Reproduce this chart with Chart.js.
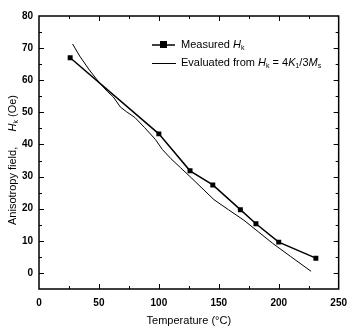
<!DOCTYPE html>
<html>
<head>
<meta charset="utf-8">
<script src="https://cdn.jsdelivr.net/npm/chart.js@4"></script>
<style>
  html, body { margin: 0; padding: 0; background: #fff; }
  #wrap { width: 355px; height: 334px; }
</style>
</head>
<body>
<div id="wrap"><canvas id="chart" width="355" height="334"></canvas></div>
<script>
// measured anisotropy field (Oe) vs temperature (C)
const measuredT = [26, 100, 126, 145, 168, 181, 200, 231];
const measuredH = [67, 43.3, 31.8, 27.4, 19.7, 15.3, 9.6, 4.6];

// evaluated from Hk = 4K1/3Ms
const evalT = [28, 34, 42, 50, 57, 62, 68, 73, 80, 88, 97, 103, 110, 118, 126, 136, 146, 158, 171, 183, 195, 210, 227];
const evalH = [71.3, 67.5, 63.2, 59.4, 56.5, 54.8, 51.6, 50.2, 48.4, 45.3, 41.6, 38.4, 35.6, 32.8, 30, 26.4, 22.8, 19.7, 16.4, 12.8, 9.2, 5.1, 0.5];

const xTicks = [0, 50, 100, 150, 200, 250];
const yTicks = [0, 10, 20, 30, 40, 50, 60, 70, 80];

const FONT = "'Liberation Sans', Arial, sans-serif";

function pts(xs, ys) {
    return xs.map((x, i) => ({ x: x, y: ys[i] }));
}

// draw a run of [text, style] pieces; style: "" normal, "i" italic, "s" subscript
function drawRich(ctx, parts, x, y, size) {
    for (const [txt, st] of parts) {
        if (st === "s") {
            ctx.font = (size - 4) + "px " + FONT;
            ctx.fillText(txt, x, y + 3);
        } else {
            ctx.font = (st === "i" ? "italic " : "") + size + "px " + FONT;
            ctx.fillText(txt, x, y);
        }
        x += ctx.measureText(txt).width;
    }
    return x;
}

function richWidth(ctx, parts, size) {
    let w = 0;
    for (const [txt, st] of parts) {
        ctx.font = st === "s" ? (size - 4) + "px " + FONT : (st === "i" ? "italic " : "") + size + "px " + FONT;
        w += ctx.measureText(txt).width;
    }
    return w;
}

// inward ticks, frame, titles and legend
const decor = {
    id: "decor",
    afterDraw(chart) {
        const ctx = chart.ctx;
        const a = chart.chartArea;
        const xs = chart.scales.x, ys = chart.scales.y;
        ctx.save();
        ctx.strokeStyle = "#000";
        ctx.lineWidth = 1.5;
        ctx.strokeRect(a.left, a.top, a.right - a.left, a.bottom - a.top);

        ctx.lineWidth = 1;
        ctx.beginPath();
        for (let v = 25; v < 250; v += 25) {
            const px = Math.round(xs.getPixelForValue(v)) + 0.5;
            const len = v % 50 === 0 ? 5 : 3;
            ctx.moveTo(px, a.bottom); ctx.lineTo(px, a.bottom - len);
            ctx.moveTo(px, a.top); ctx.lineTo(px, a.top + len);
        }
        for (let v = 0; v < 80; v += 5) {
            const py = Math.round(ys.getPixelForValue(v)) + 0.5;
            const len = v % 10 === 0 ? 5 : 3;
            ctx.moveTo(a.left, py); ctx.lineTo(a.left + len, py);
            ctx.moveTo(a.right, py); ctx.lineTo(a.right - len, py);
        }
        ctx.stroke();

        ctx.fillStyle = "#000";
        ctx.textBaseline = "middle";

        // x title
        ctx.font = "11px " + FONT;
        ctx.textAlign = "center";
        ctx.fillText("Temperature (\u00b0C)", (a.left + a.right) / 2, 321);
        ctx.textAlign = "left";

        // y title
        const yParts = [["Anisotropy field,     ", ""], ["H", "i"], ["k", "s"], [" (Oe)", ""]];
        ctx.save();
        ctx.translate(13, 160);
        ctx.rotate(-Math.PI / 2);
        drawRich(ctx, yParts, -richWidth(ctx, yParts, 11) / 2, 0, 11);
        ctx.restore();

        // legend
        ctx.lineWidth = 1.5;
        ctx.beginPath();
        ctx.moveTo(152, 45); ctx.lineTo(175, 45);
        ctx.stroke();
        ctx.fillRect(160, 41, 7, 7);
        ctx.lineWidth = 1;
        ctx.beginPath();
        ctx.moveTo(152, 63.5); ctx.lineTo(176, 63.5);
        ctx.stroke();

        drawRich(ctx, [["Measured ", ""], ["H", "i"], ["k", "s"]], 181, 45, 11);
        drawRich(ctx, [["Evaluated from ", ""], ["H", "i"], ["k", "s"], [" = 4", ""],
                       ["K", "i"], ["1", "s"], ["/3", ""], ["M", "i"], ["s", "s"]], 181, 63, 11);
        ctx.restore();
    }
};

new Chart(document.getElementById("chart"), {
    type: "scatter",
    data: {
        datasets: [
            {
                label: "Measured Hk",
                data: pts(measuredT, measuredH),
                showLine: true,
                borderColor: "#000",
                backgroundColor: "#000",
                borderWidth: 1.5,
                pointStyle: "rect",
                pointRadius: 3.5,
                pointBorderWidth: 0,
                tension: 0
            },
            {
                label: "Evaluated",
                data: pts(evalT, evalH),
                showLine: true,
                borderColor: "#000",
                borderWidth: 1,
                pointRadius: 0,
                tension: 0
            }
        ]
    },
    options: {
        responsive: false,
        animation: false,
        layout: { padding: { top: 16, right: 7, left: 0, bottom: 0 } },
        plugins: {
            legend: { display: false },
            tooltip: { enabled: false }
        },
        scales: {
            x: {
                type: "linear",
                min: 0,
                max: 250,
                afterBuildTicks: (s) => { s.ticks = xTicks.map(v => ({ value: v })); },
                afterFit: (s) => { s.height = 45; },
                grid: { display: false, drawTicks: false },
                border: { display: false },
                ticks: {
                    padding: 8,
                    maxRotation: 0,
                    color: "#000",
                    font: { family: FONT, size: 10, weight: "bold" }
                }
            },
            y: {
                min: -5,
                max: 80,
                afterBuildTicks: (s) => { s.ticks = yTicks.map(v => ({ value: v })); },
                afterFit: (s) => { s.width = 39; },
                grid: { display: false, drawTicks: false },
                border: { display: false },
                ticks: {
                    padding: 6,
                    color: "#000",
                    font: { family: FONT, size: 10, weight: "bold" }
                }
            }
        }
    },
    plugins: [decor]
});
</script>
</body>
</html>
